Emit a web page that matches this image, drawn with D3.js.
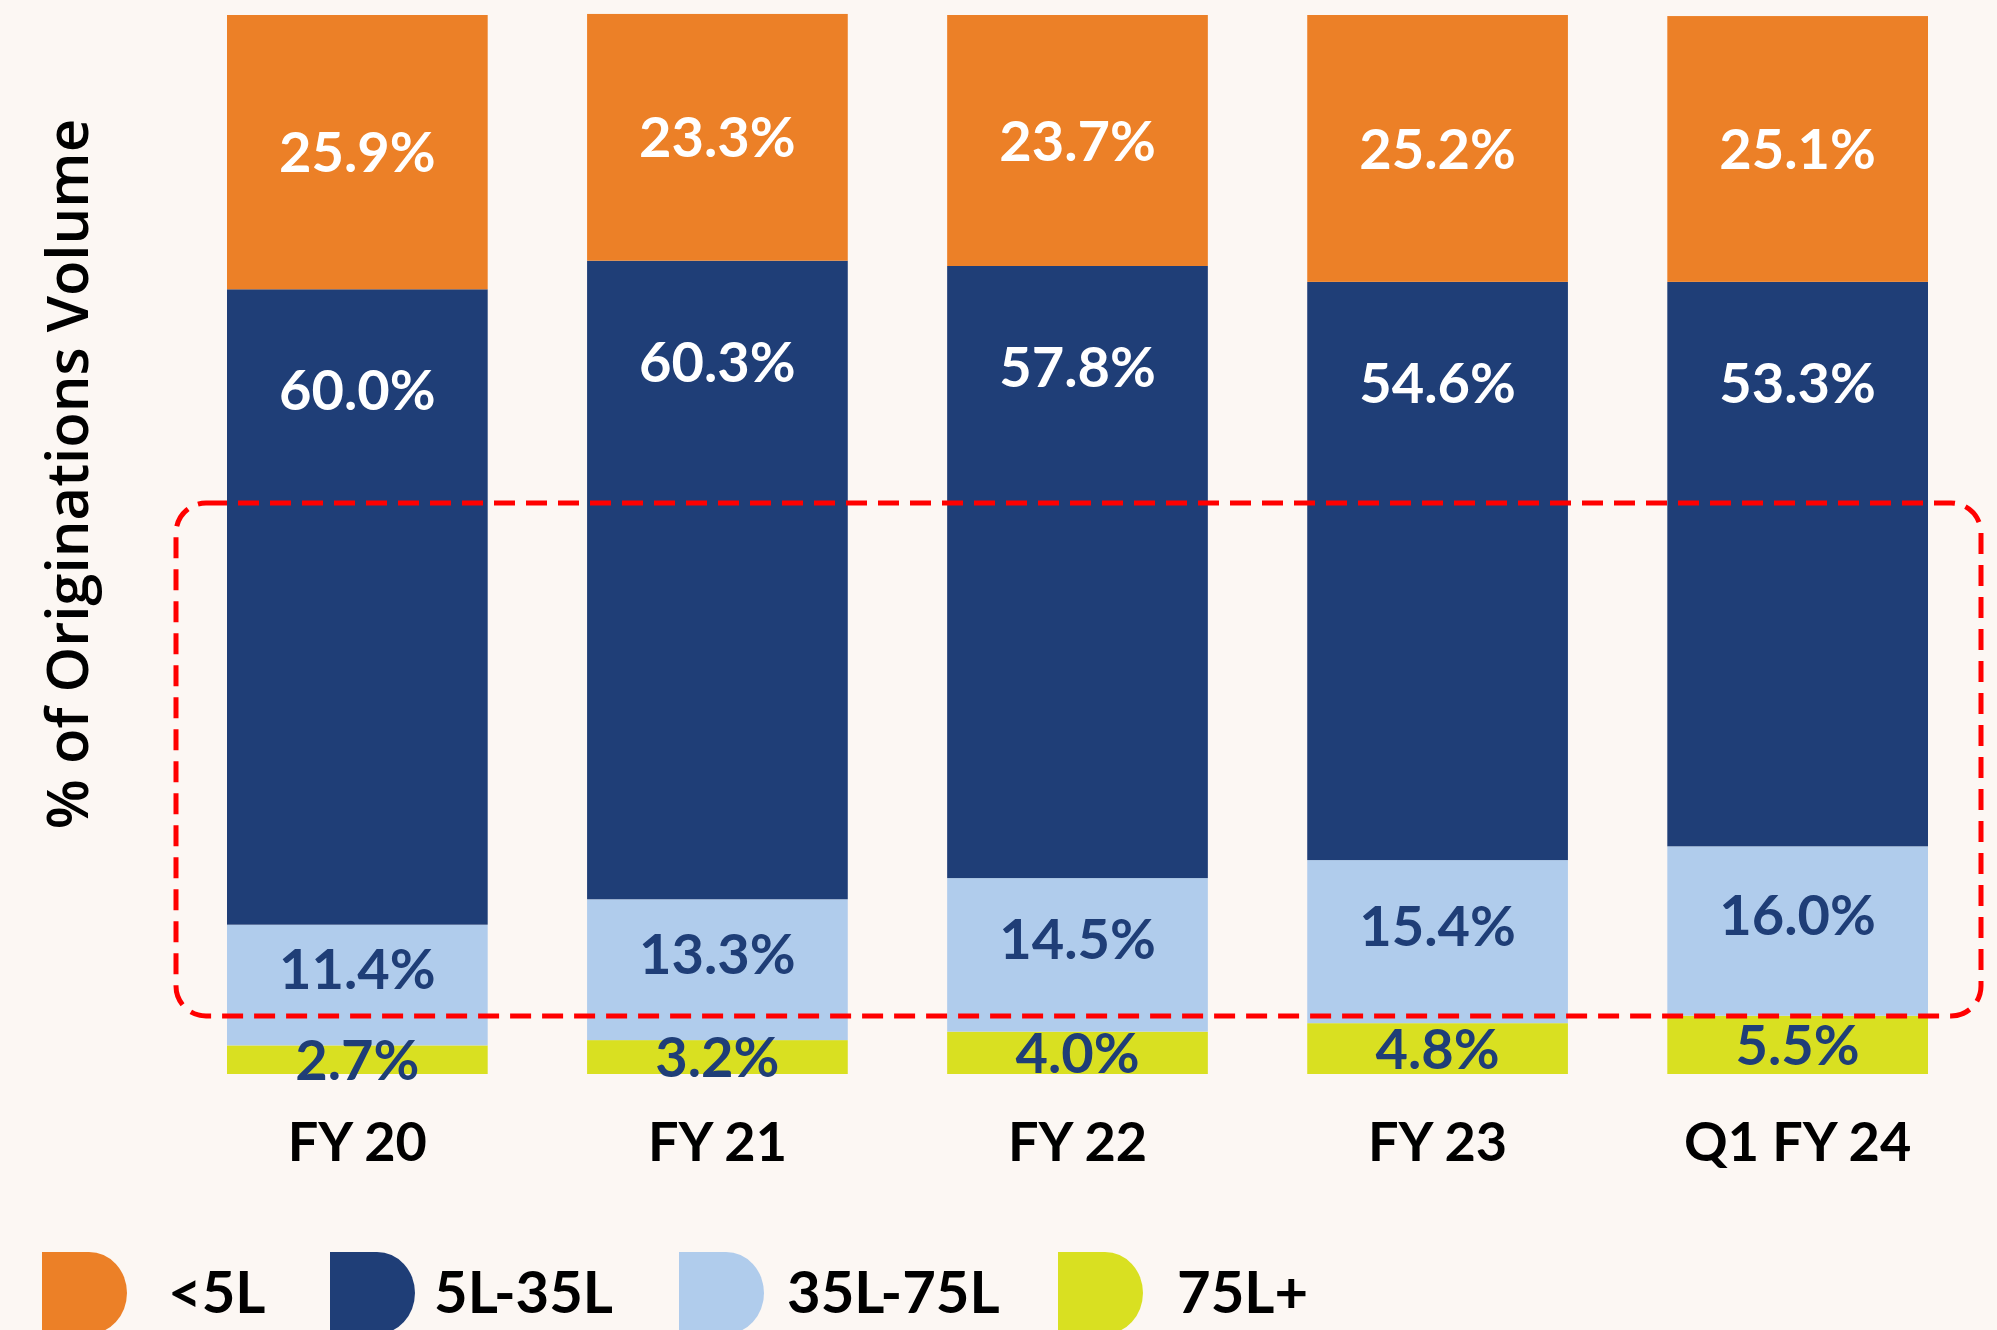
<!DOCTYPE html>
<html>
<head>
<meta charset="utf-8">
<script src="https://cdn.jsdelivr.net/npm/d3@7"></script>
<style>
  body { margin: 0; background: #fcf7f3; }
  svg { display: block; }
</style>
</head>
<body>
<div id="chart"></div>
<script>
// data
const periods = ["FY 20", "FY 21", "FY 22", "FY 23", "Q1 FY 24"];
const seriesNames = ["75L+", "35L-75L", "5L-35L", "<5L"];
const under5L = [25.9, 23.3, 23.7, 25.2, 25.1];
const from5to35L = [60.0, 60.3, 57.8, 54.6, 53.3];
const from35to75L = [11.4, 13.3, 14.5, 15.4, 16.0];
const over75L = [2.7, 3.2, 4.0, 4.8, 5.5];
const legendOrder = ["<5L", "5L-35L", "35L-75L", "75L+"];

const colors = {"<5L": "#ec8027", "5L-35L": "#1f3e77", "35L-75L": "#b0ccec", "75L+": "#d9e021"};
const labelColors = {"<5L": "#fff", "5L-35L": "#fff", "35L-75L": "#1f3e77", "75L+": "#1f3e77"};

const width = 1997;
const height = 1330;

const rows = periods.map((p, i) => ({
  period: p,
  "<5L": under5L[i],
  "5L-35L": from5to35L[i],
  "35L-75L": from35to75L[i],
  "75L+": over75L[i]
}));

const svg = d3.select("#chart")
              .append("svg")
              .attr("width", width)
              .attr("height", height);

const x = d3.scaleBand()
            .domain(periods)
            .range([227, 1928])
            .paddingInner(0.276)
            .paddingOuter(0);

const y = d3.scaleLinear()
            .domain([0, 100])
            .range([1074, 15]);

const stacked = d3.stack().keys(seriesNames)(rows);

const layers = svg.selectAll("g.layer").data(stacked).enter()
    .append("g")
    .attr("class", "layer")
    .attr("fill", d => colors[d.key]);

layers.selectAll("rect").data(d => d).enter()
    .append("rect")
    .attr("x", d => x(d.data.period))
    .attr("y", d => y(d[1]))
    .attr("width", x.bandwidth())
    .attr("height", d => y(d[0]) - y(d[1]));

// value labels
stacked.forEach(layer => {
  svg.selectAll(null).data(layer).enter()
     .append("text")
     .attr("fill", labelColors[layer.key])
     .attr("font-family", "Lato, sans-serif")
     .attr("font-weight", 700)
     .attr("font-size", "56px")
     .attr("text-anchor", "middle")
     .attr("x", d => x(d.data.period) + x.bandwidth() / 2)
     .attr("y", d => {
       if (layer.key === "5L-35L") return y(d[1]) + 101;
       if (layer.key === "35L-75L") return (y(d[0]) + y(d[1])) / 2 - 16;
       return (y(d[0]) + y(d[1])) / 2;
     })
     .attr("dy", "0.36em")
     .text(d => d.data[layer.key].toFixed(1) + "%");
});

// highlight box
svg.append("rect")
   .attr("x", 176)
   .attr("y", 503)
   .attr("width", 1805)
   .attr("height", 513)
   .attr("rx", 30)
   .attr("fill", "none")
   .attr("stroke", "#ff0000")
   .attr("stroke-width", 5)
   .attr("stroke-dasharray", "21,11");

// x axis labels
const xAxis = svg.append("g")
   .attr("transform", "translate(0,1120)")
   .call(d3.axisBottom(x).tickSize(0).tickPadding(0));
xAxis.select(".domain").remove();
xAxis.selectAll("text")
     .attr("fill", "#000")
     .attr("font-family", "Lato, sans-serif")
     .attr("font-weight", 700)
     .attr("font-size", "54px")
     .attr("dy", "0.75em");

// y title
svg.append("text")
   .attr("transform", "translate(88,474) rotate(-90)")
   .attr("text-anchor", "middle")
   .attr("font-family", "'Open Sans', sans-serif")
   .attr("font-weight", 600)
   .attr("font-size", "58px")
   .attr("fill", "#000")
   .text("% of Originations Volume");

// legend
const legendX = [42, 330, 679, 1058];
const legendTextX = [168, 434, 787, 1177];
const legend = svg.selectAll("g.legend").data(legendOrder).enter()
    .append("g")
    .attr("class", "legend");

legend.append("path")
      .attr("transform", (d, i) => `translate(${legendX[i]},1252)`)
      .attr("d", "M0,0 H47 A38,41 0 0 1 47,82 H0 Z")
      .attr("fill", d => colors[d]);

legend.append("text")
      .attr("x", (d, i) => legendTextX[i])
      .attr("y", 1313)
      .attr("font-family", "Lato, sans-serif")
      .attr("font-weight", 700)
      .attr("font-size", "58px")
      .attr("fill", "#000")
      .text(d => d);
</script>
</body>
</html>
